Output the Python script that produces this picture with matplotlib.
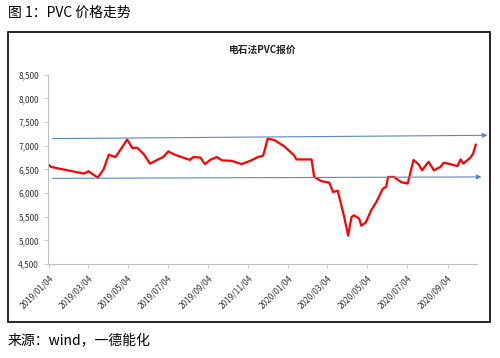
import pandas as pd
import matplotlib.pyplot as plt
import matplotlib.dates as mdates
from matplotlib.patches import Rectangle
from matplotlib.ticker import FuncFormatter

plt.rcParams['font.family'] = ['Noto Sans CJK SC', 'DejaVu Sans']

# PVC price (carbide method)
dates = ['2019-01-04', '2019-01-07', '2019-02-01', '2019-02-26', '2019-03-05',
         '2019-03-19', '2019-03-28', '2019-04-05', '2019-04-15', '2019-04-24',
         '2019-05-03', '2019-05-11', '2019-05-18', '2019-05-28', '2019-06-07',
         '2019-06-18', '2019-06-27', '2019-07-05', '2019-07-13', '2019-07-23',
         '2019-08-07', '2019-08-12', '2019-08-23', '2019-08-30', '2019-09-07',
         '2019-09-17', '2019-09-25', '2019-10-10', '2019-10-25', '2019-11-09',
         '2019-11-19', '2019-11-27', '2019-12-04', '2019-12-14', '2019-12-29',
         '2020-01-13', '2020-01-17', '2020-02-09', '2020-02-13', '2020-02-24',
         '2020-03-07', '2020-03-13', '2020-03-20', '2020-03-25', '2020-03-30',
         '2020-04-05', '2020-04-10', '2020-04-14', '2020-04-22', '2020-04-25',
         '2020-05-02', '2020-05-10', '2020-05-18', '2020-05-28', '2020-06-02',
         '2020-06-05', '2020-06-14', '2020-06-25', '2020-07-05', '2020-07-10',
         '2020-07-14', '2020-07-22', '2020-07-27', '2020-08-06', '2020-08-14',
         '2020-08-24', '2020-08-29', '2020-09-08', '2020-09-19', '2020-09-24',
         '2020-09-28', '2020-10-09', '2020-10-13', '2020-10-17']
prices = [6585, 6550, 6480, 6410, 6460,
          6325, 6500, 6810, 6760, 6940,
          7130, 6950, 6960, 6830, 6620,
          6700, 6760, 6880, 6820, 6770,
          6700, 6760, 6750, 6610, 6700,
          6760, 6690, 6680, 6610, 6690,
          6760, 6790, 7150, 7120, 6990,
          6800, 6710, 6710, 6340, 6250,
          6220, 6020, 6050, 5770, 5490,
          5100, 5490, 5530, 5455, 5310,
          5380, 5630, 5810, 6090, 6130,
          6340, 6340, 6230, 6200, 6480,
          6700, 6600, 6480, 6660, 6480,
          6550, 6640, 6610, 6570, 6710,
          6620, 6750, 6830, 7020]

# range lines (start/end dates and levels)
upper_dates = ['2019-01-09', '2020-11-04']
upper_levels = [7150, 7220]
lower_dates = ['2019-01-09', '2020-10-26']
lower_levels = [6310, 6340]

tick_dates = ['2019-01-04', '2019-03-04', '2019-05-04', '2019-07-04', '2019-09-04',
              '2019-11-04', '2020-01-04', '2020-03-04', '2020-05-04', '2020-07-04',
              '2020-09-04']
tick_labels = [d.replace('-', '/') for d in tick_dates]

x = pd.to_datetime(dates)

fig = plt.figure(figsize=(5, 3.58), dpi=100)
ax = fig.add_axes([0.096, 0.2626, 0.858, 0.5287])

ax.plot(x, prices, color='#ff0000', lw=1.6)

arrow_color = '#5b88c0'
for d, v in [(upper_dates, upper_levels), (lower_dates, lower_levels)]:
    d = pd.to_datetime(d)
    ax.annotate('', xy=(mdates.date2num(d[1]), v[1]),
                xytext=(mdates.date2num(d[0]), v[0]),
                arrowprops=dict(arrowstyle='-|>', color=arrow_color, lw=0.8,
                                mutation_scale=7, shrinkA=0, shrinkB=0),
                annotation_clip=False)

ax.set_xlim(pd.Timestamp('2019-01-02'), pd.Timestamp('2020-10-19'))
ax.set_ylim(4500, 8500)
ax.set_yticks(range(4500, 8501, 500))
ax.yaxis.set_major_formatter(FuncFormatter(lambda v, p: f'{int(v):,}'))
ax.set_xticks(pd.to_datetime(tick_dates))
ax.set_xticklabels(tick_labels, rotation=45, ha='right', rotation_mode='anchor')

for s in ['top', 'right']:
    ax.spines[s].set_visible(False)
for s in ['left', 'bottom']:
    ax.spines[s].set_color('#bfbfbf')
    ax.spines[s].set_linewidth(0.8)
ax.tick_params(axis='both', colors='#bfbfbf', labelcolor='#333333', labelsize=6,
               length=3, width=0.6)

ax.set_title('电石法PVC报价', fontsize=7, fontweight='bold', color='#222222', pad=16)

fig.patches.append(Rectangle((0.016, 0.1006), 0.964, 0.81, transform=fig.transFigure,
                             fill=False, edgecolor='black', lw=1.2))
fig.text(0.016, 0.965, '图 1：PVC 价格走势', fontsize=10, va='center', ha='left')
fig.text(0.016, 0.047, '来源：wind，一德能化', fontsize=10, va='center', ha='left')

fig.savefig('out.png', dpi=100)
